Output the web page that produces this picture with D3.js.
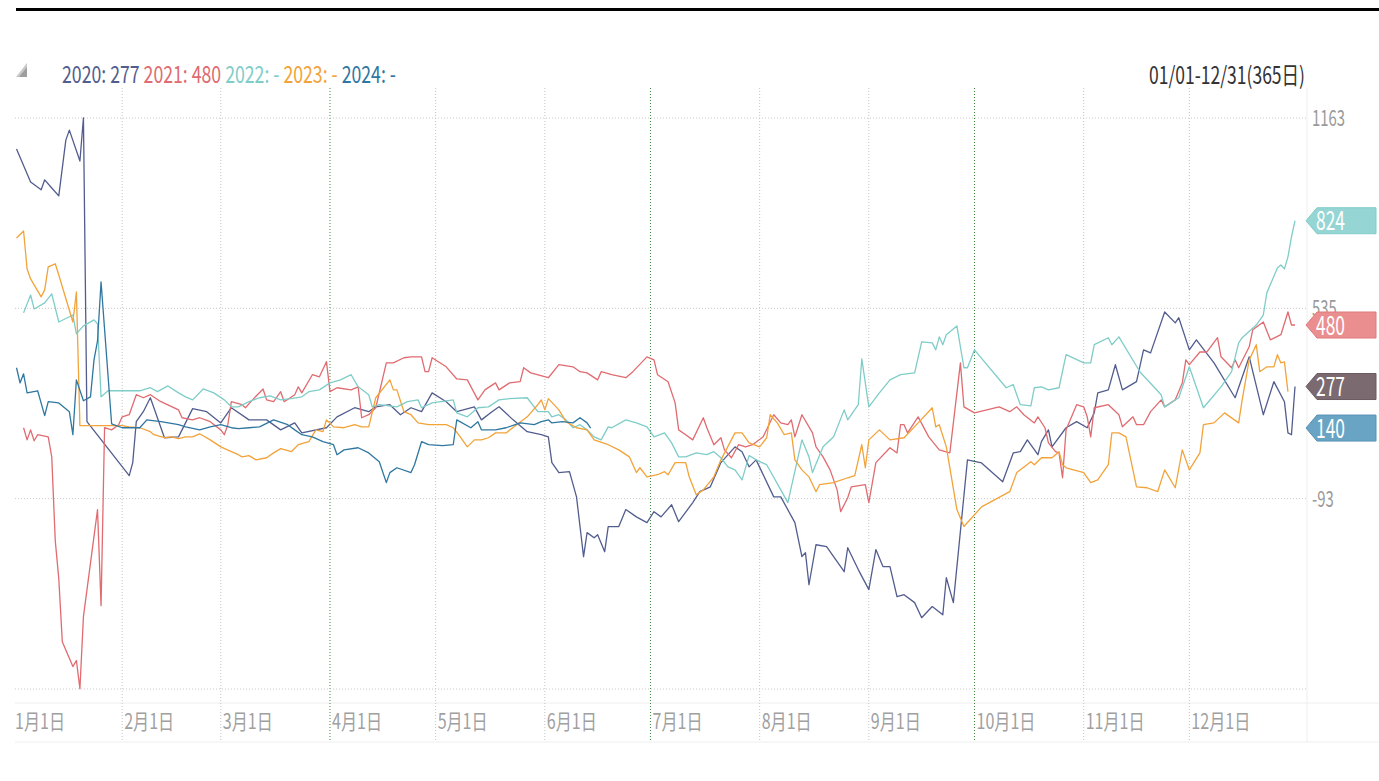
<!DOCTYPE html>
<html>
<head>
<meta charset="utf-8">
<script src="https://cdn.jsdelivr.net/npm/d3@7"></script>
<style>
  body { margin: 0; background: #fff; }
  svg { display: block; }
</style>
</head>
<body>
<div id="chart"></div>
<script>
// ---- data ----
const years = ["2020", "2021", "2022", "2023", "2024"];
const lineColors = ["#525d8e", "#e06b70", "#7fcdc8", "#f2a33a", "#2f77a1"];
const legendValues = ["277", "480", "-", "-", "-"];

const monthStarts = [0, 31, 59, 90, 120, 151, 181, 212, 243, 273, 304, 334];
const monthLabels = ["1月1日", "2月1日", "3月1日", "4月1日", "5月1日", "6月1日",
                     "7月1日", "8月1日", "9月1日", "10月1日", "11月1日", "12月1日"];
const quarterMonths = [3, 6, 9];

const yTicks = [1163, 535, -93];
const yMin = -721;
const rangeText = "01/01-12/31(365日)";

// [day of year, value]
const s2020 = [[1,1061],[5,952],[8,926],[9,959],[11,932],[13,906],[15,1090],[16,1123],[19,1021],[20,1163],
  [21,161],[33,-17],[34,26],[35,161],[37,194],[39,240],[43,108],[47,111],[51,204],[55,194],[59,157],[62,207],
  [67,167],[72,167],[76,134],[80,157],[82,124],[89,141],[92,177],[97,207],[101,194],[103,210],[107,217],
  [110,184],[113,207],[116,194],[119,256],[123,227],[126,194],[131,210],[133,167],[136,194],[138,210],
  [142,167],[146,128],[150,118],[152,111],[153,26],[155,-7],[158,-4],[160,-87],[162,-284],[163,-205],
  [165,-222],[166,-212],[168,-268],[169,-185],[172,-185],[174,-129],[177,-153],[180,-172],[182,-136],
  [184,-153],[187,-113],[189,-169],[193,-106],[195,-70],[198,-54],[201,26],[205,78],[207,62],[209,12],
  [211,35],[216,-87],[218,-87],[222,-172],[224,-284],[225,-271],[226,-377],[228,-245],[231,-251],
  [236,-334],[237,-255],[240,-327],[243,-393],[245,-261],[247,-317],[249,-317],[251,-416],[253,-410],
  [256,-436],[258,-486],[261,-449],[264,-476],[265,-354],[267,-436],[271,35],[275,25],[281,-37],[284,58],
  [286,62],[288,101],[291,52],[292,95],[294,134],[295,78],[299,141],[302,161],[305,141],[307,190],
  [308,256],[311,266],[313,349],[315,266],[319,293],[321,398],[323,388],[327,523],[330,487],[331,504],
  [334,398],[336,431],[341,355],[347,240],[351,375],[355,184],[358,293],[361,227],[362,124],[363,118],[364,277]];

const s2021 = [[3,141],[4,101],[5,134],[6,98],[7,118],[10,111],[11,45],[12,-232],[13,-357],[14,-565],
  [17,-647],[18,-627],[19,-720],[20,-482],[24,-129],[25,-446],[26,141],[28,134],[30,151],[31,177],[33,184],
  [35,250],[37,240],[39,250],[42,227],[47,200],[48,174],[51,167],[53,174],[56,161],[59,134],[60,118],
  [61,151],[62,227],[65,217],[66,207],[68,233],[71,269],[72,233],[74,227],[76,260],[77,227],[80,250],
  [81,276],[82,256],[85,316],[87,309],[89,359],[90,260],[92,273],[96,266],[98,276],[99,174],[101,184],
  [103,207],[106,355],[108,355],[111,372],[113,375],[116,375],[117,326],[118,326],[119,372],[123,342],
  [126,302],[129,299],[132,233],[134,266],[137,289],[138,266],[141,289],[144,293],[145,339],[147,322],
  [152,306],[155,349],[159,342],[161,326],[163,322],[166,299],[167,326],[170,316],[174,306],[176,326],
  [180,375],[182,365],[183,316],[186,293],[188,223],[189,134],[191,118],[193,101],[196,174],[197,141],
  [199,85],[201,108],[202,68],[204,42],[206,85],[208,78],[210,85],[213,111],[216,184],[218,157],[220,151],
  [221,167],[222,111],[224,184],[227,124],[228,78],[230,45],[232,2],[234,-64],[235,-136],[237,-90],
  [238,-54],[242,-47],[243,-106],[245,26],[249,75],[251,58],[252,151],[253,151],[254,124],[257,177],
  [260,111],[263,68],[266,58],[269,355],[270,210],[273,190],[280,210],[283,194],[285,210],[287,184],
  [290,157],[291,177],[293,141],[294,91],[296,62],[297,58],[298,-24],[299,134],[302,217],[304,210],
  [305,177],[306,111],[307,207],[311,217],[314,184],[315,144],[318,177],[319,151],[321,151],[323,194],
  [326,233],[327,210],[330,233],[332,289],[333,365],[334,349],[337,391],[339,391],[342,438],[343,375],
  [346,339],[347,365],[348,339],[351,408],[352,464],[355,490],[357,431],[360,448],[362,523],[363,480],[364,480]];

const s2022 = [[3,520],[5,579],[6,533],[9,553],[11,583],[13,490],[17,513],[18,451],[20,477],[23,497],
  [24,484],[25,243],[27,263],[36,263],[39,273],[41,260],[44,279],[47,256],[49,243],[51,233],[54,269],
  [57,256],[60,233],[62,210],[64,210],[67,227],[70,240],[73,246],[76,233],[79,237],[82,243],[84,260],
  [87,266],[90,289],[93,299],[96,316],[98,276],[101,250],[102,210],[104,217],[109,210],[112,227],
  [115,233],[116,207],[119,223],[125,233],[126,190],[129,177],[132,207],[135,210],[138,233],[141,237],
  [146,240],[149,194],[152,194],[153,177],[155,184],[157,167],[159,141],[161,151],[163,134],[165,111],
  [167,101],[169,144],[170,141],[174,167],[177,157],[180,144],[182,111],[185,124],[187,91],[189,45],
  [191,45],[194,58],[197,52],[199,62],[201,42],[203,12],[205,2],[207,-31],[209,49],[212,29],[214,19],
  [218,-64],[220,-106],[224,101],[226,45],[227,-7],[230,78],[233,111],[236,200],[237,167],[240,217],
  [241,368],[243,210],[246,256],[249,299],[252,316],[256,322],[258,424],[261,421],[262,398],[263,441],
  [264,415],[265,448],[268,477],[270,339],[271,339],[273,398],[282,273],[284,283],[286,217],[289,213],
  [290,273],[292,276],[294,266],[297,273],[299,382],[304,355],[306,355],[307,415],[311,438],[312,415],
  [314,441],[320,325],[326,250],[327,210],[331,240],[334,342],[338,207],[343,276],[346,326],[348,421],
  [349,438],[353,480],[355,513],[356,586],[359,668],[360,678],[361,665],[362,705],[363,771],[364,824]];

const s2023 = [[1,767],[3,790],[4,665],[5,632],[8,573],[9,596],[10,672],[12,682],[13,645],[17,490],
  [18,589],[19,148],[28,148],[31,148],[33,144],[36,141],[39,128],[40,118],[43,108],[45,111],[47,105],
  [49,111],[51,111],[53,121],[56,101],[59,78],[62,62],[64,52],[65,45],[67,49],[69,35],[72,42],[74,58],
  [76,72],[79,62],[81,85],[84,95],[86,134],[88,128],[89,167],[91,144],[94,141],[97,151],[99,144],
  [101,144],[103,240],[107,299],[108,266],[109,266],[111,194],[113,184],[115,157],[118,151],[123,151],
  [125,141],[127,111],[129,78],[131,101],[133,101],[135,108],[137,124],[140,124],[143,151],[146,177],
  [149,217],[150,233],[151,200],[152,237],[155,200],[157,161],[160,141],[163,134],[165,101],[169,85],
  [172,68],[175,45],[177,-7],[178,9],[180,-21],[183,-14],[185,-4],[186,-14],[188,26],[191,26],[192,-21],
  [194,-80],[196,-64],[199,-21],[201,35],[205,124],[207,124],[209,91],[212,78],[214,108],[215,184],
  [217,157],[219,118],[221,124],[222,35],[224,2],[226,-21],[228,-70],[229,-47],[233,-40],[237,-24],
  [239,-17],[241,85],[242,9],[243,101],[246,134],[249,101],[253,108],[257,157],[261,207],[262,144],
  [263,151],[265,78],[268,-129],[270,-185],[275,-120],[283,-70],[285,-7],[289,29],[290,19],[292,42],
  [295,42],[297,62],[298,19],[299,9],[303,-4],[304,-7],[306,-40],[308,-31],[311,19],[312,124],[314,124],
  [316,111],[319,-54],[322,-57],[325,-70],[327,2],[330,-57],[332,68],[334,2],[337,58],[338,151],
  [341,157],[344,190],[348,157],[349,233],[351,365],[353,415],[354,326],[356,342],[358,342],[359,382],
  [360,355],[361,358],[362,260]];

const s2024 = [[1,339],[2,289],[3,319],[4,256],[7,263],[9,181],[10,227],[13,223],[16,194],[17,118],
  [18,299],[20,230],[22,243],[23,365],[24,428],[25,622],[28,154],[31,141],[36,141],[38,167],[42,161],
  [47,151],[49,144],[53,134],[56,144],[59,151],[62,141],[64,138],[67,141],[70,144],[74,167],[78,151],
  [80,134],[82,118],[85,111],[88,95],[91,85],[92,52],[94,68],[98,75],[101,58],[104,29],[106,-40],
  [107,-7],[109,9],[113,-7],[114,19],[116,95],[118,85],[122,82],[125,85],[126,167],[130,141],[132,161],
  [133,134],[137,134],[140,141],[144,157],[148,151],[150,161],[152,167],[153,157],[156,161],[159,157],
  [161,174],[163,157],[164,140]];

const seriesData = [s2020, s2021, s2022, s2023, s2024];

// end-of-line value tags
const tagValues = [824, 480, 277, 140];
const tagColors = ["#95d6d4", "#ea8e90", "#7c6a71", "#6aa4c4"];
const tagStrokes = ["#7fcdc8", "#e07a7d", "#6c5b62", "#5693b6"];

// ---- layout ----
const width = 1379, height = 781;
const plotLeft = 13, plotRight = 1295, plotTop = 118, plotBottom = 689;

const svg = d3.select("#chart").append("svg")
  .attr("width", width).attr("height", height)
  .style("font-family", "'Noto Sans CJK SC', 'Noto Sans', sans-serif");

const x = d3.scaleLinear().domain([0, 364]).range([plotLeft, plotRight]);
const y = d3.scaleLinear().domain([yMin, yTicks[0]]).range([plotBottom, plotTop]);

// squeezed text: horizontal scale chosen so the text fits a target width
function squeezed(g, px, py, str, size, fill, anchor, targetW) {
  const t = g.append("text")
    .attr("font-size", size)
    .attr("fill", fill)
    .attr("text-anchor", anchor || "start")
    .text(str);
  const w = t.node().getComputedTextLength();
  const k = targetW ? targetW / w : 0.7;
  t.attr("transform", `translate(${px},${py}) scale(${k},1)`);
  return t;
}

// top black rule
svg.append("rect").attr("x", 16).attr("y", 8).attr("width", width - 16).attr("height", 3).attr("fill", "#000");

// frame lines around x labels
svg.append("line").attr("x1", 15).attr("x2", width).attr("y1", 703).attr("y2", 703)
  .attr("stroke", "#eeeeee");
svg.append("line").attr("x1", 15).attr("x2", width).attr("y1", 742).attr("y2", 742)
  .attr("stroke", "#eeeeee");
svg.append("line").attr("x1", 1307).attr("x2", 1307).attr("y1", 88).attr("y2", 742)
  .attr("stroke", "#eeeeee");

// vertical month grid
const grid = svg.append("g");
grid.selectAll("line.v")
  .data(monthStarts.slice(1).map((d, i) => ({ d, i: i + 1 })))
  .enter().append("line")
  .attr("x1", m => x(m.d)).attr("x2", m => x(m.d))
  .attr("y1", 88).attr("y2", 742)
  .attr("stroke", m => quarterMonths.includes(m.i) ? "#3f8a3f" : "#c4c4c4")
  .attr("stroke-width", 1)
  .attr("stroke-dasharray", "1,2");

// horizontal grid
grid.selectAll("line.h")
  .data(yTicks.concat([yMin]))
  .enter().append("line")
  .attr("x1", 15).attr("x2", 1307)
  .attr("y1", d => y(d)).attr("y2", d => y(d))
  .attr("stroke", "#c8c8c8")
  .attr("stroke-dasharray", "1,2");

// lines
const line = d3.line().x(d => x(d[0])).y(d => y(d[1]));
svg.append("g").selectAll("path")
  .data(seriesData)
  .enter().append("path")
  .attr("d", line)
  .attr("fill", "none")
  .attr("stroke", (d, i) => lineColors[i])
  .attr("stroke-width", 1.3)
  .attr("stroke-linejoin", "round");

// x labels
const xl = svg.append("g");
let kx = null;
monthStarts.forEach((d, i) => {
  const t = xl.append("text").attr("font-size", 21).attr("fill", "#a0a0a0").text(monthLabels[i]);
  if (kx === null) kx = 50 / t.node().getComputedTextLength();
  t.attr("transform", `translate(${x(d) + 2},${729}) scale(${kx},1)`);
});

// y labels
const yl = svg.append("g");
let ky = null;
yTicks.forEach(v => {
  const t = yl.append("text").attr("font-size", 22).attr("fill", "#9a9a9a").text(v);
  if (ky === null) ky = 33 / t.node().getComputedTextLength();
  t.attr("transform", `translate(1312,${y(v) + 8}) scale(${ky},1)`);
});

// value tags
const tags = svg.append("g");
let kt = null;
tagValues.forEach((v, i) => {
  const cy = y(v);
  tags.append("path")
    .attr("d", `M1306,${cy} L1317,${cy - 13} L1376,${cy - 13} L1376,${cy + 13} L1317,${cy + 13} Z`)
    .attr("fill", tagColors[i])
    .attr("stroke", tagStrokes[i])
    .attr("stroke-width", 1);
  const t = tags.append("text").attr("font-size", 26).attr("fill", "#fff").text(v);
  if (kt === null) kt = 29 / t.node().getComputedTextLength();
  t.attr("transform", `translate(1316,${cy + 9.5}) scale(${kt},1)`);
});

// legend icon
svg.append("path").attr("d", "M16,77 L27,63 L27,77 Z").attr("fill", "#c8c8c8");
svg.append("path").attr("d", "M19,77 L27,67 L27,77 Z").attr("fill", "#9e9e9e");

// legend text
const lg = svg.append("text").attr("font-size", 24);
years.forEach((yr, i) => {
  lg.append("tspan").attr("fill", lineColors[i])
    .text(yr + ": " + legendValues[i] + (i < years.length - 1 ? " " : ""));
});
const lw = lg.node().getComputedTextLength();
lg.attr("transform", `translate(62,83) scale(${334 / lw},1)`);

// range text, top right
squeezed(svg, 1305, 84, rangeText, 24, "#333", "end", 156);
</script>
</body>
</html>
